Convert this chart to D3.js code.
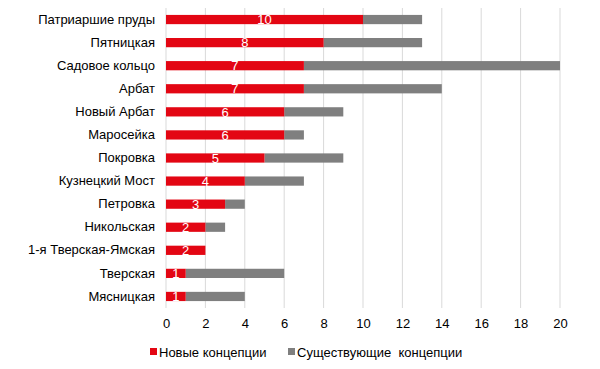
<!DOCTYPE html>
<html>
<head>
<meta charset="utf-8">
<script src="https://cdn.jsdelivr.net/npm/d3@7"></script>
<style>
  body { margin: 0; background: #fff; }
  text { font-family: "Liberation Sans", Arial, sans-serif; }
</style>
</head>
<body>
<svg id="chart" width="600" height="369"></svg>
<script>
"use strict";

var streets = ["Патриаршие пруды", "Пятницкая", "Садовое кольцо", "Арбат", "Новый Арбат",
	"Маросейка", "Покровка", "Кузнецкий Мост", "Петровка", "Никольская",
	"1-я Тверская-Ямская", "Тверская", "Мясницкая"];
var newConcepts = [10, 8, 7, 7, 6, 6, 5, 4, 3, 2, 2, 1, 1];
var existingConcepts = [3, 5, 13, 7, 3, 1, 4, 3, 1, 1, 0, 5, 3];
var xTicks = [0, 2, 4, 6, 8, 10, 12, 14, 16, 18, 20];
var seriesNames = ["Новые концепции", "Существующие  концепции"];
var colors = ["#e30613", "#7f7f7f"];

var svg = d3.select("#chart");

var x = d3.scaleLinear().domain([0, 20]).range([166, 560]);
var y = d3.scaleBand().domain(streets).range([8, 308]).paddingInner(0.6).paddingOuter(0.3);

// gridlines
svg.append("g")
	.selectAll("line")
	.data(xTicks)
	.join("line")
	.attr("x1", function(d) { return x(d); })
	.attr("x2", function(d) { return x(d); })
	.attr("y1", 8)
	.attr("y2", 308)
	.attr("stroke", "#d9d9d9")
	.attr("stroke-width", 1);

var rows = streets.map(function(s, i) {
	return { name: s, a: newConcepts[i], b: existingConcepts[i] };
});

// existing (gray) segment
svg.append("g")
	.selectAll("rect")
	.data(rows)
	.join("rect")
	.attr("x", function(d) { return x(d.a); })
	.attr("y", function(d) { return y(d.name); })
	.attr("width", function(d) { return x(d.a + d.b) - x(d.a); })
	.attr("height", y.bandwidth())
	.attr("fill", colors[1]);

// new (red) segment
svg.append("g")
	.selectAll("rect")
	.data(rows)
	.join("rect")
	.attr("x", x(0))
	.attr("y", function(d) { return y(d.name); })
	.attr("width", function(d) { return x(d.a) - x(0); })
	.attr("height", y.bandwidth())
	.attr("fill", colors[0]);

// data labels
svg.append("g")
	.selectAll("text")
	.data(rows)
	.join("text")
	.attr("x", function(d) { return (x(0) + x(d.a)) / 2; })
	.attr("y", function(d) { return y(d.name) + y.bandwidth() / 2; })
	.attr("dy", "0.36em")
	.attr("text-anchor", "middle")
	.attr("fill", "#fff")
	.attr("font-size", 13)
	.text(function(d) { return d.a; });

// category labels
var yAxis = svg.append("g")
	.attr("transform", "translate(" + x(0) + ",0)")
	.call(d3.axisLeft(y).tickSize(0).tickPadding(11));
yAxis.select(".domain").remove();
yAxis.selectAll("text")
	.attr("font-size", 13)
	.attr("fill", "#000")
	.style("font-family", "'Liberation Sans', Arial, sans-serif");

// x axis labels
var xAxis = svg.append("g")
	.attr("transform", "translate(0,308)")
	.call(d3.axisBottom(x).tickValues(xTicks).tickSize(0).tickPadding(11));
xAxis.select(".domain").remove();
xAxis.selectAll("text")
	.attr("font-size", 13)
	.attr("fill", "#000")
	.style("font-family", "'Liberation Sans', Arial, sans-serif");

// legend
var legendX = [150, 288];
var legend = svg.append("g")
	.selectAll("g")
	.data(seriesNames)
	.join("g")
	.attr("transform", function(d, i) { return "translate(" + legendX[i] + ",352)"; });
legend.append("rect")
	.attr("x", 0)
	.attr("y", -4)
	.attr("width", 7)
	.attr("height", 7)
	.attr("fill", function(d, i) { return colors[i]; });
legend.append("text")
	.attr("x", 9)
	.attr("y", 0)
	.attr("dy", "0.36em")
	.attr("font-size", 13)
	.attr("fill", "#000")
	.style("white-space", "pre")
	.text(function(d) { return d; });
</script>
</body>
</html>
